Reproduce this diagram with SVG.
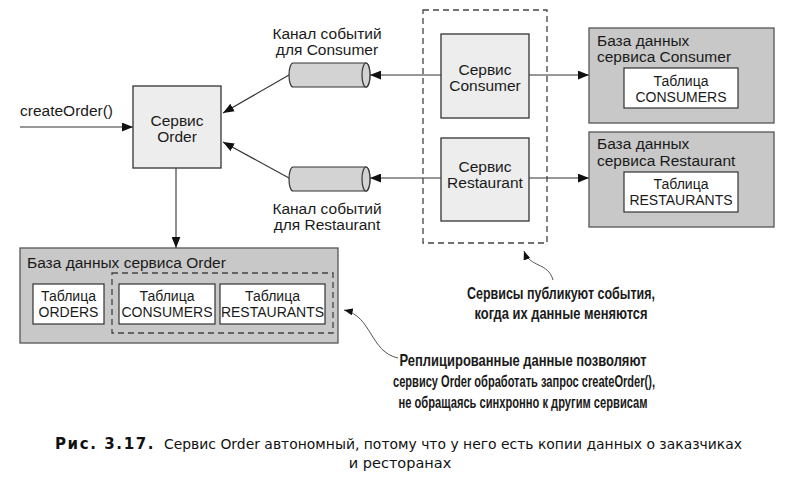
<svg xmlns="http://www.w3.org/2000/svg" width="807" height="495" viewBox="0 0 807 495">
<style>
  .lbl { font-family: "Liberation Sans", Arial, sans-serif; font-size: 15.5px; fill: #1a1a1a; }
  .tbl { font-family: "Liberation Sans", Arial, sans-serif; font-size: 14px; fill: #1a1a1a; }
  .note { font-family: "Liberation Sans", Arial, sans-serif; font-size: 16.5px; font-weight: bold; fill: #1a1a1a; }
  .cap { font-family: "DejaVu Sans", Verdana, sans-serif; font-size: 14.5px; fill: #111; }
  .capb { font-weight: bold; font-size: 15px; letter-spacing: 1.6px; }
  .svc { fill: #ededed; stroke: #333; stroke-width: 1.3; }
  .db { fill: #c8c8c8; stroke: #555; stroke-width: 1.3; }
  .table { fill: #ffffff; stroke: #333; stroke-width: 1.2; }
  .dash { fill: none; stroke: #444; stroke-width: 1.3; stroke-dasharray: 6 4; }
  .cyl { fill: #d3d3d3; stroke: #333; stroke-width: 1.2; }
  .conn { fill: none; stroke: #333; stroke-width: 1.1; }
  .curve { fill: none; stroke: #555; stroke-width: 1; }
</style>
<defs>
  <marker id="ah" viewBox="0 0 10 8" refX="10" refY="4" markerWidth="11" markerHeight="9" orient="auto" markerUnits="userSpaceOnUse">
    <path d="M0,0 L10,4 L0,8 Z" fill="#111"/>
  </marker>
  <marker id="ahs" viewBox="0 0 10 8" refX="10" refY="4" markerWidth="9" markerHeight="7" orient="auto" markerUnits="userSpaceOnUse">
    <path d="M0,0 L10,4 L0,8 Z" fill="#111"/>
  </marker>
</defs>

<g id="connectors">
  <path class="conn" d="M20,127 H133" marker-end="url(#ah)"/>
  <path class="conn" d="M289,75 L223,113" marker-end="url(#ah)"/>
  <path class="conn" d="M289,178 L223,142" marker-end="url(#ah)"/>
  <path class="conn" d="M441,75 H370" marker-end="url(#ah)"/>
  <path class="conn" d="M529,75 H589" marker-end="url(#ah)"/>
  <path class="conn" d="M441,178 H370" marker-end="url(#ah)"/>
  <path class="conn" d="M529,178 H589" marker-end="url(#ah)"/>
  <path class="conn" d="M176,168 V248" marker-end="url(#ah)"/>
  <path class="curve" d="M553,280 C548,262 530,268 524,251" marker-end="url(#ahs)"/>
  <path class="curve" d="M398,358 C370,352 372,316 344,310" marker-end="url(#ahs)"/>
</g>

<g id="create-order-label">
  <text class="lbl" x="20" y="116">createOrder()</text>
</g>

<g id="order-service">
  <rect class="svc" x="133" y="86" width="88" height="82"/>
  <text class="lbl" x="177" y="126" text-anchor="middle">Сервис</text>
  <text class="lbl" x="177" y="142" text-anchor="middle">Order</text>
</g>

<g id="consumer-channel">
  <path class="cyl" d="M293,63 H366 A4,12 0 0 1 366,87 H293 A4,12 0 0 1 293,63 Z"/>
  <ellipse class="cyl" cx="366" cy="75" rx="4" ry="12"/>
  <text class="lbl" x="327" y="39" text-anchor="middle">Канал событий</text>
  <text class="lbl" x="327" y="55" text-anchor="middle">для Consumer</text>
</g>

<g id="restaurant-channel">
  <path class="cyl" d="M293,167 H366 A4,12 0 0 1 366,191 H293 A4,12 0 0 1 293,167 Z"/>
  <ellipse class="cyl" cx="366" cy="179" rx="4" ry="12"/>
  <text class="lbl" x="327" y="214" text-anchor="middle">Канал событий</text>
  <text class="lbl" x="327" y="230" text-anchor="middle">для Restaurant</text>
</g>

<g id="publishers-group">
  <rect class="dash" x="423" y="10" width="124" height="233"/>
</g>

<g id="consumer-service">
  <rect class="svc" x="441" y="34" width="88" height="84"/>
  <text class="lbl" x="485" y="75" text-anchor="middle">Сервис</text>
  <text class="lbl" x="485" y="91" text-anchor="middle">Consumer</text>
</g>

<g id="restaurant-service">
  <rect class="svc" x="441" y="138" width="88" height="83"/>
  <text class="lbl" x="485" y="172" text-anchor="middle">Сервис</text>
  <text class="lbl" x="485" y="188" text-anchor="middle">Restaurant</text>
</g>

<g id="consumer-db">
  <rect class="db" x="589" y="28" width="185" height="95"/>
  <text class="lbl" x="597" y="46">База данных</text>
  <text class="lbl" x="597" y="62">сервиса Consumer</text>
  <rect class="table" x="624" y="68" width="114" height="40"/>
  <text class="tbl" x="681" y="86" text-anchor="middle">Таблица</text>
  <text class="tbl" x="681" y="102" text-anchor="middle">CONSUMERS</text>
</g>

<g id="restaurant-db">
  <rect class="db" x="589" y="132" width="185" height="95"/>
  <text class="lbl" x="597" y="149">База данных</text>
  <text class="lbl" x="597" y="166">сервиса Restaurant</text>
  <rect class="table" x="624" y="172" width="114" height="40"/>
  <text class="tbl" x="681" y="189" text-anchor="middle">Таблица</text>
  <text class="tbl" x="681" y="205" text-anchor="middle">RESTAURANTS</text>
</g>

<g id="order-db">
  <rect class="db" x="20" y="248" width="318" height="95"/>
  <text class="lbl" x="27" y="268">База данных сервиса Order</text>
  <rect class="dash" x="112" y="273" width="221" height="60"/>
  <rect class="table" x="33" y="284" width="71" height="40"/>
  <text class="tbl" x="68.5" y="301" text-anchor="middle">Таблица</text>
  <text class="tbl" x="68.5" y="317" text-anchor="middle">ORDERS</text>
  <rect class="table" x="119" y="284" width="96" height="40"/>
  <text class="tbl" x="167" y="301" text-anchor="middle">Таблица</text>
  <text class="tbl" x="167" y="317" text-anchor="middle">CONSUMERS</text>
  <rect class="table" x="220" y="284" width="105" height="40"/>
  <text class="tbl" x="272.5" y="301" text-anchor="middle">Таблица</text>
  <text class="tbl" x="272.5" y="317" text-anchor="middle">RESTAURANTS</text>
</g>

<g id="note-publish">
  <text class="note" x="561" y="299" text-anchor="middle" textLength="188" lengthAdjust="spacingAndGlyphs">Сервисы публикуют события,</text>
  <text class="note" x="561" y="319" text-anchor="middle" textLength="173" lengthAdjust="spacingAndGlyphs">когда их данные меняются</text>
</g>

<g id="note-replicated">
  <text class="note" x="523" y="366" text-anchor="middle" textLength="247" lengthAdjust="spacingAndGlyphs">Реплицированные данные позволяют</text>
  <text class="note" x="524" y="387" text-anchor="middle" textLength="262" lengthAdjust="spacingAndGlyphs">сервису Order обработать запрос createOrder(),</text>
  <text class="note" x="523" y="408" text-anchor="middle" textLength="249" lengthAdjust="spacingAndGlyphs">не обращаясь синхронно к другим сервисам</text>
</g>

<g id="caption">
  <text class="cap" x="55" y="449"><tspan class="capb">Рис. 3.17.</tspan><tspan x="164" textLength="578" lengthAdjust="spacingAndGlyphs">Сервис Order автономный, потому что у него есть копии данных о заказчиках</tspan></text>
  <text class="cap" x="400" y="468" text-anchor="middle">и ресторанах</text>
</g>
</svg>
